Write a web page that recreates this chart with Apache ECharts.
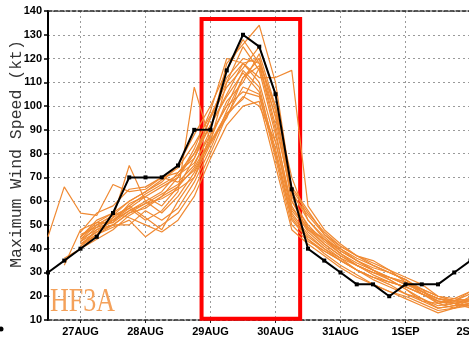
<!DOCTYPE html>
<html>
<head>
<meta charset="utf-8">
<script src="https://cdn.jsdelivr.net/npm/echarts@6/dist/echarts.min.js"></script>
<style>
  html, body { margin: 0; padding: 0; background: #fff; }
  #chart { width: 469px; height: 345px; }
</style>
</head>
<body>
<div id="chart"></div>
<script>
// Forecast valid times: hours after 26 AUG 00Z, every 6 h from 26/12Z to 2 SEP 00Z
const hours = [12, 18, 24, 30, 36, 42, 48, 54, 60, 66, 72, 78, 84, 90, 96, 102, 108, 114, 120, 126, 132, 138, 144, 150, 156, 162, 168];

// Day tick positions and their labels
const dayTicks = [24, 48, 72, 96, 120, 144, 168];
const dayLabels = ['27AUG', '28AUG', '29AUG', '30AUG', '31AUG', '1SEP', '2SEP'];

// Best-track intensity (kt)
const bestTrack = [30, 35, 40, 45, 55, 70, 70, 70, 75, 90, 90, 115, 130, 125, 105, 65, 40, 35, 30, 25, 25, 20, 25, 25, 25, 30, 35];

// HF3A ensemble member intensity forecasts (kt)
const m01 = [45, 66, 55, 54, 67, 64, 65, 70, 72, 80, 95, 112, 120, 118, 100, 70, 52, 44, 38, 34, 31, 27, 23, 19, 16, 17, 18];
const m02 = [null, 33, 48, 51, 51, 59, 62, 58, 66, 78, 92, 105, 118, 110, 85, 55, 46, 40, 35, 31, 27, 24, 21, 18, 15, 16, 17];
const m03 = [null, null, 44, 50, 52, 58, 53, 48, 60, 70, 88, 100, 115, 108, 80, 52, 44, 38, 33, 29, 25, 22, 19, 16, 13, 15, 19];
const m04 = [null, null, 41, 48, 50, 50, 56, 52, 57, 68, 82, 98, 112, 120, 95, 60, 50, 43, 38, 33, 30, 27, 23, 18, 17, 15, 16];
const m05 = [null, 36, 40, 46, 53, 75, 60, 55, 62, 72, 85, 110, 125, 115, 88, 58, 47, 41, 36, 31, 28, 25, 21, 19, 15, 16, 20];
const m06 = [null, null, 47, 55, 58, 65, 66, 70, 68, 75, 90, 118, 126, 134, 110, 65, 55, 47, 41, 37, 35, 31, 26, 21, 18, 17, 16];
const m07 = [null, null, 42, 46, 49, 52, 45, 50, 55, 65, 80, 96, 108, 105, 78, 50, 43, 39, 35, 31, 28, 26, 24, 21, 17, 18, 18];
const m08 = [null, null, 45, 52, 55, 53, 50, 47, 52, 62, 78, 92, 100, 102, 75, 48, 42, 37, 32, 28, 25, 22, 20, 17, 14, 15, 17];
const m09 = [null, null, 43, 47, 50, 55, 57, 62, 70, 82, 98, 120, 118, 112, 112, 115, 58, 48, 42, 37, 33, 30, 27, 22, 19, 18, 22];
const m10 = [null, null, 46, 49, 51, 56, 60, 64, 72, 78, 95, 108, 116, 125, 105, 62, 49, 42, 37, 33, 29, 26, 24, 21, 18, 16, 17];
const m11 = [null, null, 40, 44, 48, 54, 58, 62, 66, 74, 86, 102, 110, 122, 100, 60, 48, 42, 37, 33, 30, 28, 26, 22, 18, 17, 19];
const m12 = [null, null, 44, 48, 52, 56, 59, 61, 65, 70, 84, 96, 104, 100, 85, 57, 49, 44, 39, 35, 32, 30, 27, 23, 20, 19, 18];
const m13 = [null, null, null, 50, 54, 57, 52, 56, 64, 108, 85, 95, 112, 117, 90, 56, 48, 44, 40, 36, 33, 30, 27, 22, 19, 17, 15];
const m14 = [null, null, 45, 50, 54, 60, 64, 68, 75, 88, 100, 115, 128, 118, 92, 63, 54, 46, 40, 35, 31, 28, 25, 22, 19, 18, 21];
const m15 = [null, null, 42, 47, 52, 57, 62, 66, 70, 80, 92, 104, 114, 106, 82, 54, 45, 40, 36, 33, 30, 28, 25, 23, 17, 19, 22];
const m16 = [null, null, 43, 49, 53, 58, 63, 67, 71, 76, 88, 100, 106, 104, 80, 53, 44, 39, 35, 31, 28, 26, 24, 21, 18, 17, 16];
const m17 = [null, null, 41, 46, 50, 55, 59, 63, 67, 73, 85, 97, 103, 116, 96, 66, 56, 46, 41, 37, 34, 31, 28, 25, 20, 18, 17];
const m18 = [null, null, 45, 51, 55, 60, 64, 69, 74, 84, 96, 110, 118, 120, 98, 64, 52, 45, 39, 35, 31, 28, 26, 23, 20, 18, 19];
const members = [m01, m02, m03, m04, m05, m06, m07, m08, m09, m10, m11, m12, m13, m14, m15, m16, m17, m18];

// Highlighted period (hours, kt)
const boxHours = [68.7, 105.1];
const boxKt = [10.5, 136.6];

const pair = (vals) => hours.map((h, i) => [h, vals[i]]).filter(p => p[1] !== null);

const ORANGE = '#f08a33';
const gridLine = { show: true, lineStyle: { color: '#9a9a9a', width: 1, type: [2, 3] } };

const series = members.map((m, k) => ({
  name: 'HF3A-' + (k + 1),
  type: 'line',
  data: pair(m),
  showSymbol: false,
  symbol: 'none',
  lineStyle: { color: ORANGE, width: 1.2 },
  z: 2,
  silent: true,
  animation: false
}));

series.push({
  name: 'BEST',
  type: 'line',
  data: pair(bestTrack),
  symbol: 'rect',
  symbolSize: 4,
  itemStyle: { color: '#000' },
  lineStyle: { color: '#000', width: 2 },
  z: 5,
  animation: false,
  markArea: {
    silent: true,
    itemStyle: { color: 'rgba(0,0,0,0)', borderColor: '#ff0000', borderWidth: 4 },
    data: [[{ coord: [boxHours[0], boxKt[1]] }, { coord: [boxHours[1], boxKt[0]] }]]
  }
});

const chart = echarts.init(document.getElementById('chart'), null, { renderer: 'canvas' });
chart.setOption({
  animation: false,
  backgroundColor: '#fff',
  grid: { left: 48, top: 11, bottom: 25, right: -34, containLabel: false, outerBoundsMode: 'none' },
  xAxis: [{
    type: 'value',
    min: 12,
    max: 180,
    position: 'bottom',
    axisLine: { show: true, onZero: false, lineStyle: { color: '#222', width: 1.5, type: [4, 2] } },
    axisTick: { show: true, length: 3, inside: false, customValues: dayTicks, lineStyle: { color: '#222' } },
    axisLabel: {
      customValues: dayTicks,
      margin: 6,
      color: '#000',
      fontFamily: 'Liberation Sans',
      fontWeight: 'bold',
      fontSize: 11,
      formatter: (v) => dayLabels[dayTicks.indexOf(v)] || ''
    },
    splitLine: gridLine
  }, {
    type: 'value',
    min: 12,
    max: 180,
    position: 'top',
    axisLine: { show: true, onZero: false, lineStyle: { color: '#222', width: 1.5, type: [4, 2] } },
    axisTick: { show: false },
    axisLabel: { show: false },
    splitLine: { show: false }
  }],
  yAxis: {
    type: 'value',
    min: 10,
    max: 140,
    interval: 10,
    axisLine: { show: true, onZero: false, lineStyle: { color: '#000', width: 2 } },
    axisTick: { show: true, length: 4, lineStyle: { color: '#000', width: 1.5 } },
    axisLabel: {
      margin: 6,
      color: '#000',
      fontFamily: 'Liberation Sans',
      fontWeight: 'bold',
      fontSize: 11
    },
    splitLine: gridLine
  },
  graphic: [
    {
      type: 'text',
      x: 17, y: 154,
      rotation: Math.PI / 2,
      style: {
        text: 'Maximum Wind Speed (kt)',
        fontFamily: 'Liberation Mono',
        fontSize: 16.5,
        fill: '#333',
        align: 'center',
        verticalAlign: 'middle'
      }
    },
    {
      type: 'text',
      x: 50, y: 319,
      scaleY: 1.3,
      style: {
        text: 'HF3A',
        fontFamily: 'Liberation Serif',
        fontSize: 26,
        fill: '#f4a15a',
        align: 'left',
        verticalAlign: 'bottom'
      },
      z: 20
    },
    {
      type: 'circle',
      shape: { cx: 1, cy: 329, r: 2.5 },
      style: { fill: '#000' }
    }
  ],
  series: series
});
</script>
</body>
</html>
